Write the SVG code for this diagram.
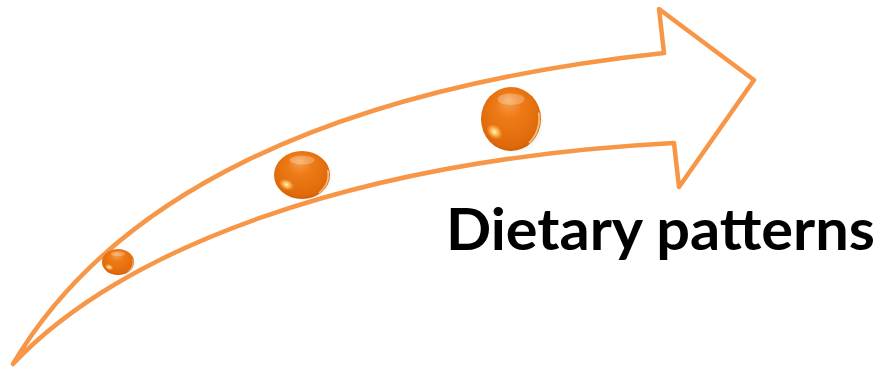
<svg xmlns="http://www.w3.org/2000/svg" width="879" height="367" viewBox="0 0 879 367">
<defs>
<style>
.arrow{fill:none;stroke:#F79646;stroke-width:4.5;stroke-linejoin:round;stroke-linecap:round}
.lbl{font-family:Lato,"Open Sans","Liberation Sans",sans-serif;font-weight:bold;fill:#000}
</style>
<radialGradient id="ball" cx="0.5" cy="0.45" r="0.6" fx="0.45" fy="0.2">
<stop offset="0" stop-color="#F7A14E"/>
<stop offset="0.35" stop-color="#EE7A17"/>
<stop offset="0.85" stop-color="#E06A0A"/>
<stop offset="1" stop-color="#C25A05"/>
</radialGradient>
<radialGradient id="hl" cx="0.5" cy="0.5" r="0.5">
<stop offset="0" stop-color="#FFF6C8"/>
<stop offset="0.5" stop-color="#FFC45A" stop-opacity="0.8"/>
<stop offset="1" stop-color="#F7A040" stop-opacity="0"/>
</radialGradient>
<radialGradient id="sh" cx="0.5" cy="0.5" r="0.5">
<stop offset="0" stop-color="#000" stop-opacity="0.3"/>
<stop offset="1" stop-color="#000" stop-opacity="0"/>
</radialGradient>
<g id="drop">
<ellipse cx="0.08" cy="0.12" rx="1.05" ry="1.0" fill="url(#sh)"/>
<ellipse cx="0" cy="0" rx="1" ry="1" fill="url(#ball)"/>
<ellipse cx="-0.55" cy="0.4" rx="0.3" ry="0.22" fill="url(#hl)" transform="rotate(35 -0.55 0.4)"/>
<ellipse cx="0" cy="-0.62" rx="0.45" ry="0.18" fill="#FFFFFF" opacity="0.25"/>
<path d="M0.92,-0.2 A1,1 0 0 1 0.6,0.75" fill="none" stroke="#FFE0B0" stroke-width="0.06" opacity="0.7"/>
</g>
</defs>
<g id="connectors">
<path class="arrow" d="M13,364 C110,200 320,90 664,53 L659,9 L754,80 L679,187 L674,143 C350,160 120,250 13,364 Z"/>
</g>
<g id="ball1"><use href="#drop" transform="translate(118,262) scale(16,13)"/></g>
<g id="ball2"><use href="#drop" transform="translate(302,175) scale(28,24)"/></g>
<g id="ball3"><use href="#drop" transform="translate(511,119) scale(30,32)"/></g>
<g id="label"><text class="lbl" x="446" y="250" font-size="57" textLength="429" lengthAdjust="spacingAndGlyphs">Dietary patterns</text></g>
</svg>
